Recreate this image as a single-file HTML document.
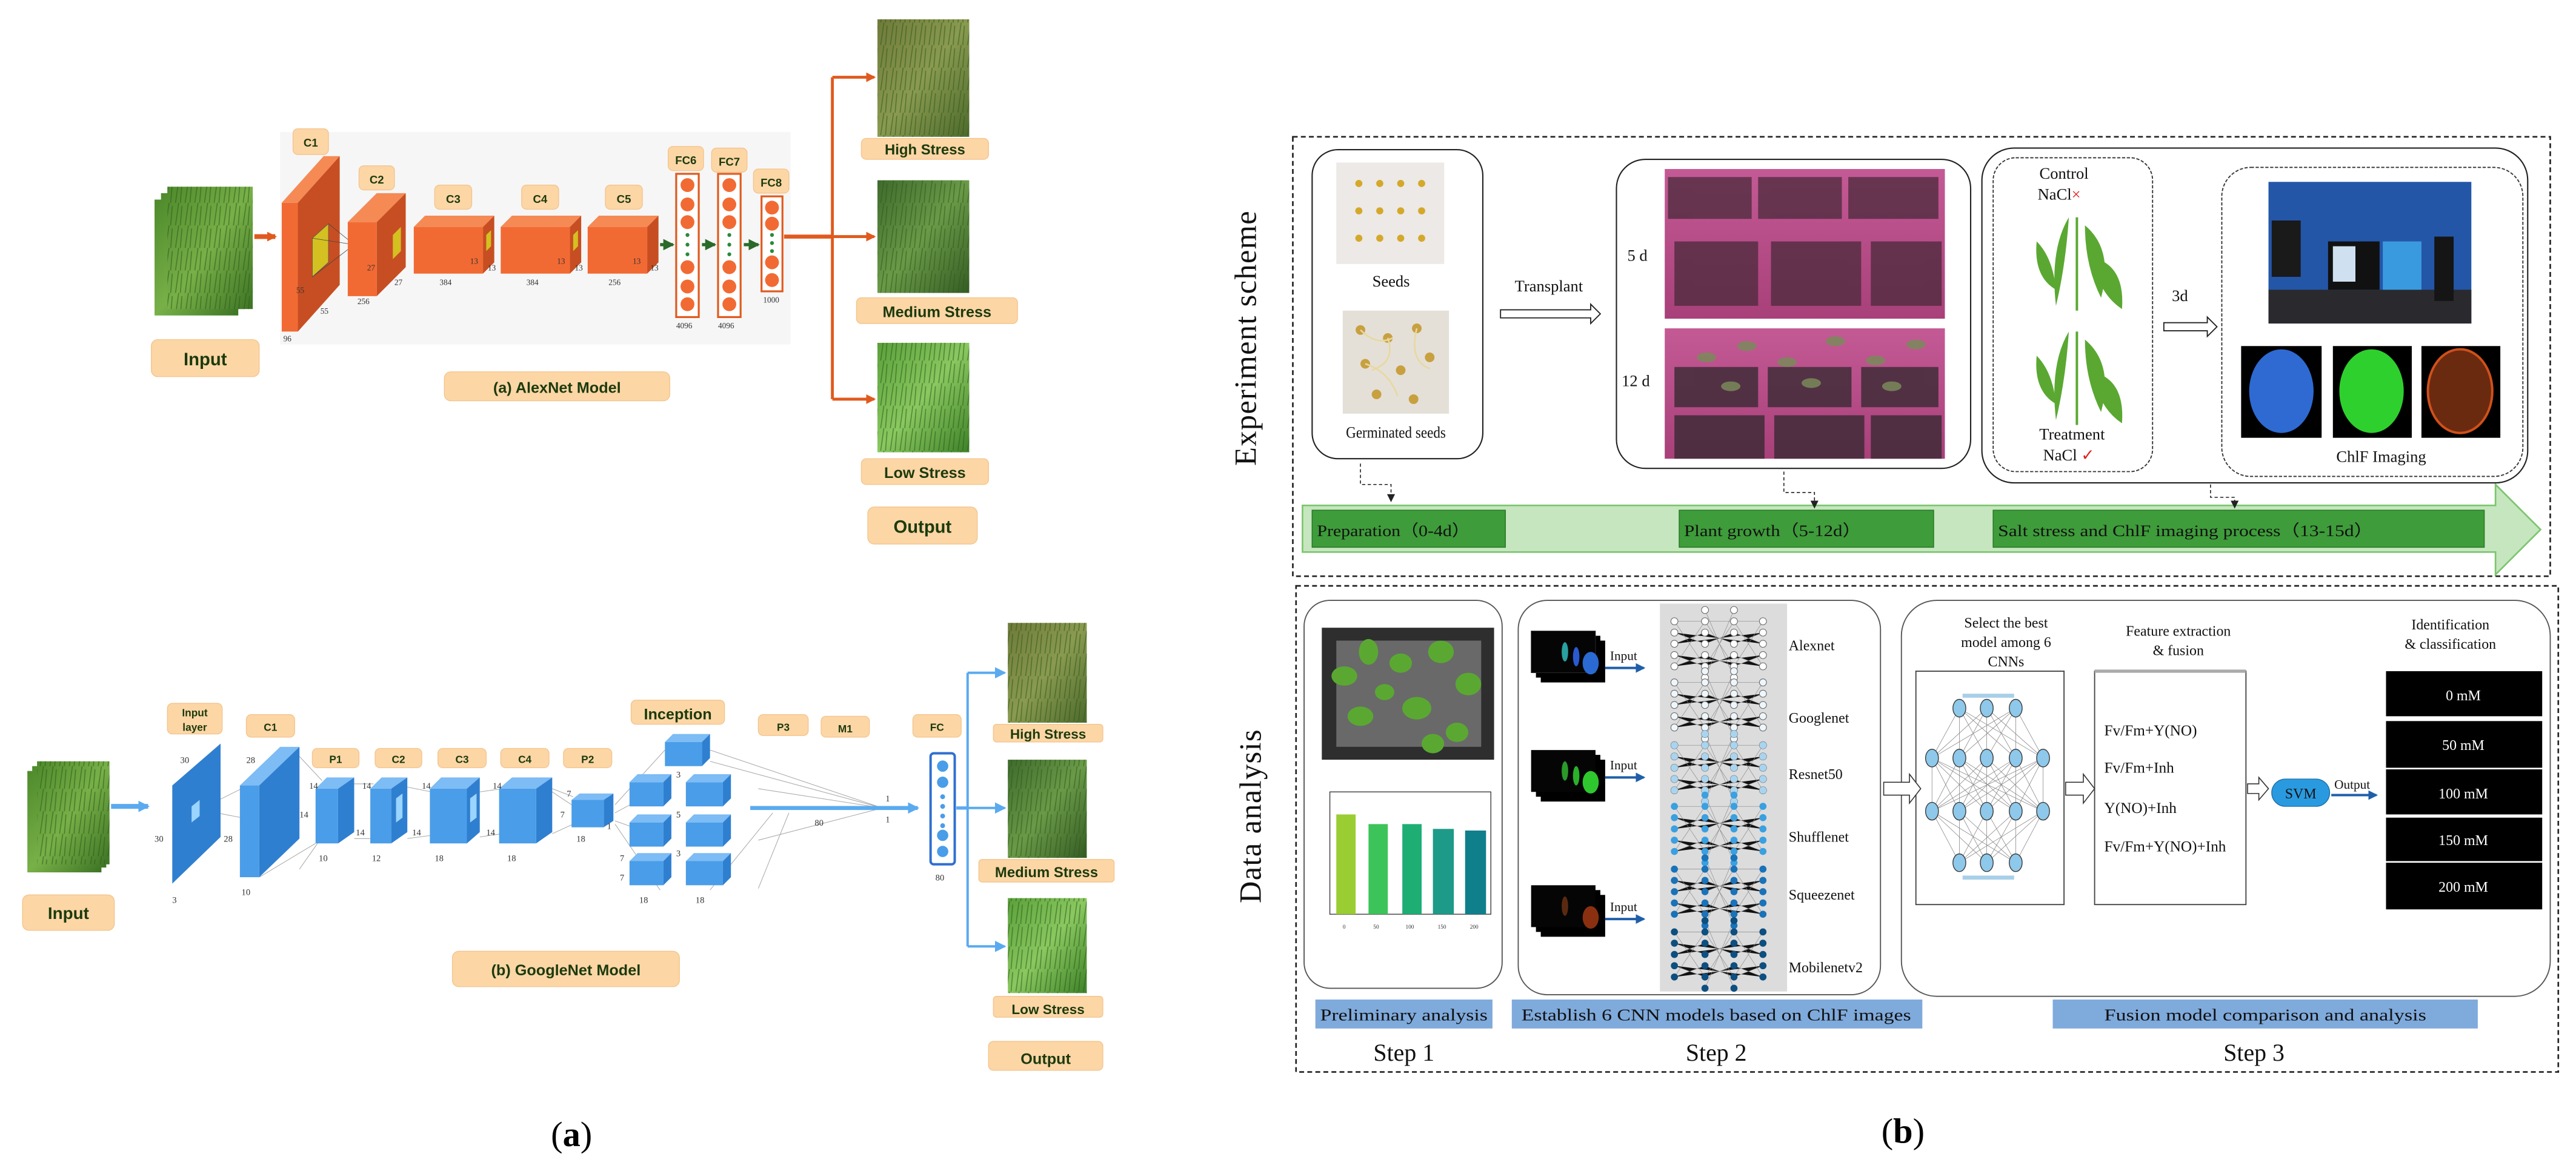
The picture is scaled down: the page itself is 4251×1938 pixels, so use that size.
<!DOCTYPE html>
<html><head><meta charset="utf-8"><style>html,body{margin:0;padding:0;background:#fff}svg{display:block}</style></head>
<body>
<svg xmlns="http://www.w3.org/2000/svg" width="4251" height="1938" viewBox="0 0 1600 729.4" preserveAspectRatio="none">
<defs>
<linearGradient id="grass" x1="0" y1="0" x2="1" y2="1"><stop offset="0" stop-color="#4e8a2c"/><stop offset="0.5" stop-color="#78b048"/><stop offset="1" stop-color="#3d7424"/></linearGradient>
<linearGradient id="grassH" x1="0" y1="0" x2="1" y2="1"><stop offset="0" stop-color="#6f7a3a"/><stop offset="0.5" stop-color="#8a9a50"/><stop offset="1" stop-color="#4e6a2c"/></linearGradient>
<linearGradient id="grassM" x1="0" y1="0" x2="1" y2="1"><stop offset="0" stop-color="#3f6a2c"/><stop offset="0.5" stop-color="#6a9a48"/><stop offset="1" stop-color="#355c24"/></linearGradient>
<linearGradient id="grassL" x1="0" y1="0" x2="1" y2="1"><stop offset="0" stop-color="#5aa03a"/><stop offset="0.5" stop-color="#8ac860"/><stop offset="1" stop-color="#3e8228"/></linearGradient>
<pattern id="blades" width="6" height="14" patternUnits="userSpaceOnUse"><path d="M1 14 L3 0 M4 14 L5 2" stroke="#2e5a1a" stroke-width="0.6" opacity="0.6"/></pattern>
<linearGradient id="pink" x1="0" y1="0" x2="0" y2="1"><stop offset="0" stop-color="#c45a95"/><stop offset="1" stop-color="#a8407a"/></linearGradient>
<marker id="ao" markerWidth="6" markerHeight="6" refX="5" refY="3" orient="auto" markerUnits="userSpaceOnUse"><path d="M0 0 L6 3 L0 6 z" fill="#e05a1e"/></marker>
<marker id="ab" markerWidth="7" markerHeight="7" refX="6" refY="3.5" orient="auto" markerUnits="userSpaceOnUse"><path d="M0 0 L7 3.5 L0 7 z" fill="#5aaaf0"/></marker>
<marker id="ag" markerWidth="7" markerHeight="7" refX="6" refY="3.5" orient="auto" markerUnits="userSpaceOnUse"><path d="M0 0 L7 3.5 L0 7 z" fill="#2a6a2a"/></marker>
<marker id="ak" markerWidth="5" markerHeight="5" refX="4" refY="2.5" orient="auto" markerUnits="userSpaceOnUse"><path d="M0 0 L5 2.5 L0 5 z" fill="#222"/></marker>
<marker id="adb" markerWidth="6" markerHeight="6" refX="5" refY="3" orient="auto" markerUnits="userSpaceOnUse"><path d="M0 0 L6 3 L0 6 z" fill="#1f5fa8"/></marker>
</defs>

<!-- ================= (a) AlexNet ================= -->
<g font-family="Liberation Sans, sans-serif" font-weight="bold" fill="#1c3a0c">
<rect x="174" y="82" width="317" height="132" fill="#f6f6f6"/>
<!-- input stack -->
<rect x="96" y="124" width="52" height="72" fill="url(#grass)"/>
<rect x="100" y="120" width="52" height="72" fill="url(#grass)"/>
<rect x="104" y="116" width="53" height="76" fill="url(#grass)"/>
<rect x="104" y="116" width="53" height="76" fill="url(#blades)"/>
<line x1="158" y1="147" x2="171" y2="147" stroke="#e05a1e" stroke-width="3" marker-end="url(#ao)"/>
<!-- C1 -->
<polygon points="175,126 201,97 211,97 185,126" fill="#f58a55"/>
<polygon points="185,126 211,97 211,177 185,206" fill="#c74e22"/>
<rect x="175" y="126" width="10" height="80" fill="#f26a33"/>
<polygon points="194,148 204,139 204,163 194,172" fill="#d4c020" stroke="#555" stroke-width="0.3"/>
<path d="M194,148 L220,152 M204,139 L220,152 M194,172 L220,152" stroke="#444" stroke-width="0.3"/>
<!-- C2 -->
<polygon points="216,138 234,120 252,120 234,138" fill="#f58a55"/>
<polygon points="234,138 252,120 252,166 234,184" fill="#c74e22"/>
<rect x="216" y="138" width="18" height="46" fill="#f26a33"/>
<polygon points="244,146 249,141 249,156 244,161" fill="#d4c020"/>
<!-- C3..C5 -->
<g>
<polygon points="257,141 264,134 307,134 300,141" fill="#f58a55"/><polygon points="300,141 307,134 307,163 300,170" fill="#c74e22"/><rect x="257" y="141" width="43" height="29" fill="#f26a33"/>
<polygon points="311,141 318,134 361,134 354,141" fill="#f58a55"/><polygon points="354,141 361,134 361,163 354,170" fill="#c74e22"/><rect x="311" y="141" width="43" height="29" fill="#f26a33"/>
<polygon points="365,141 372,134 409,134 402,141" fill="#f58a55"/><polygon points="402,141 409,134 409,163 402,170" fill="#c74e22"/><rect x="365" y="141" width="37" height="29" fill="#f26a33"/>
<polygon points="302,146 305,143 305,153 302,156" fill="#d4c020"/><polygon points="356,146 359,143 359,153 356,156" fill="#d4c020"/>
</g>
<g font-family="Liberation Serif, serif" font-weight="normal" font-size="5" fill="#333">
<text x="176" y="212">96</text><text x="184" y="182">55</text><text x="199" y="195">55</text><text x="222" y="189">256</text><text x="228" y="168">27</text><text x="245" y="177">27</text>
<text x="273" y="177">384</text><text x="327" y="177">384</text><text x="378" y="177">256</text>
<text x="292" y="164">13</text><text x="303" y="168">13</text><text x="346" y="164">13</text><text x="357" y="168">13</text><text x="393" y="164">13</text><text x="404" y="168">13</text>
<text x="420" y="204">4096</text><text x="446" y="204">4096</text><text x="474" y="188">1000</text>
</g>
<!-- FC columns -->
<rect x="420" y="108" width="14" height="89" fill="#fff" stroke="#e05a1e" stroke-width="1.2"/>
<rect x="446" y="108" width="14" height="89" fill="#fff" stroke="#e05a1e" stroke-width="1.2"/>
<rect x="473" y="122" width="13" height="59" fill="#fff" stroke="#e05a1e" stroke-width="1.2"/>
<g fill="#f26a33">
<circle cx="427" cy="115" r="4.3"/><circle cx="427" cy="127" r="4.3"/><circle cx="427" cy="138" r="4.3"/><circle cx="427" cy="166" r="4.3"/><circle cx="427" cy="178" r="4.3"/><circle cx="427" cy="189" r="4.3"/>
<circle cx="453" cy="115" r="4.3"/><circle cx="453" cy="127" r="4.3"/><circle cx="453" cy="138" r="4.3"/><circle cx="453" cy="166" r="4.3"/><circle cx="453" cy="178" r="4.3"/><circle cx="453" cy="189" r="4.3"/>
<circle cx="479.5" cy="129" r="4.3"/><circle cx="479.5" cy="139" r="4.3"/><circle cx="479.5" cy="163" r="4.3"/><circle cx="479.5" cy="174" r="4.3"/>
</g>
<g fill="#2a8a3a"><circle cx="427" cy="146" r="1.2"/><circle cx="427" cy="152" r="1.2"/><circle cx="427" cy="158" r="1.2"/><circle cx="453" cy="146" r="1.2"/><circle cx="453" cy="152" r="1.2"/><circle cx="453" cy="158" r="1.2"/><circle cx="479.5" cy="146" r="1.2"/><circle cx="479.5" cy="151" r="1.2"/><circle cx="479.5" cy="156" r="1.2"/></g>
<line x1="410" y1="152" x2="418" y2="152" stroke="#2a6a2a" stroke-width="2" marker-end="url(#ag)"/>
<line x1="436" y1="152" x2="444" y2="152" stroke="#2a6a2a" stroke-width="2" marker-end="url(#ag)"/>
<line x1="462" y1="152" x2="471" y2="152" stroke="#2a6a2a" stroke-width="2" marker-end="url(#ag)"/>
<!-- labels -->
<g fill="#fdd6a6" stroke="#f3c48c" stroke-width="0.5">
<rect x="182" y="80" width="22" height="16" rx="3"/><rect x="223" y="103" width="22" height="15" rx="3"/><rect x="270" y="115" width="23" height="15" rx="3"/><rect x="324" y="115" width="23" height="15" rx="3"/><rect x="376" y="115" width="23" height="15" rx="3"/>
<rect x="415" y="91" width="22" height="15" rx="3"/><rect x="442" y="92" width="22" height="15" rx="3"/><rect x="468" y="105" width="22" height="15" rx="3"/>
<rect x="94" y="211" width="67" height="23" rx="4"/><rect x="276" y="231" width="140" height="18" rx="4"/>
<rect x="535" y="86" width="79" height="13" rx="3"/><rect x="532" y="185" width="100" height="16" rx="3"/><rect x="535" y="285" width="79" height="16" rx="3"/><rect x="539" y="315" width="68" height="23" rx="4"/>
</g>
<g font-size="7" text-anchor="middle"><text x="193" y="91">C1</text><text x="234" y="114">C2</text><text x="281.5" y="126">C3</text><text x="335.5" y="126">C4</text><text x="387.5" y="126">C5</text><text x="426" y="102">FC6</text><text x="453" y="103">FC7</text><text x="479" y="116">FC8</text></g>
<text x="127.5" y="227" font-size="11" text-anchor="middle">Input</text>
<text x="346" y="244" font-size="9.5" text-anchor="middle">(a) AlexNet Model</text>
<text x="574.5" y="96" font-size="9" text-anchor="middle">High Stress</text>
<text x="582" y="197" font-size="9.5" text-anchor="middle">Medium Stress</text>
<text x="574.5" y="297" font-size="9.5" text-anchor="middle">Low Stress</text>
<text x="573" y="331" font-size="11" text-anchor="middle">Output</text>
<!-- outputs -->
<line x1="487" y1="147" x2="517" y2="147" stroke="#e05a1e" stroke-width="2.5"/>
<line x1="517" y1="48" x2="517" y2="248" stroke="#e05a1e" stroke-width="1.8"/>
<line x1="517" y1="48" x2="543" y2="48" stroke="#e05a1e" stroke-width="1.8" marker-end="url(#ao)"/>
<line x1="517" y1="147" x2="543" y2="147" stroke="#e05a1e" stroke-width="1.8" marker-end="url(#ao)"/>
<line x1="517" y1="248" x2="543" y2="248" stroke="#e05a1e" stroke-width="1.8" marker-end="url(#ao)"/>
<rect x="545" y="12" width="57" height="73" fill="url(#grassH)"/><rect x="545" y="12" width="57" height="73" fill="url(#blades)"/>
<rect x="545" y="112" width="57" height="70" fill="url(#grassM)"/><rect x="545" y="112" width="57" height="70" fill="url(#blades)"/>
<rect x="545" y="213" width="57" height="68" fill="url(#grassL)"/><rect x="545" y="213" width="57" height="68" fill="url(#blades)"/>
</g>

<!-- ================= (b) GoogleNet ================= -->
<g font-family="Liberation Sans, sans-serif" font-weight="bold" fill="#1c3a0c">
<rect x="17" y="479" width="46" height="63" fill="url(#grass)"/>
<rect x="20" y="476" width="46" height="63" fill="url(#grass)"/>
<rect x="23" y="473" width="45" height="64" fill="url(#grass)"/><rect x="23" y="473" width="45" height="64" fill="url(#blades)"/>
<line x1="69" y1="501" x2="92" y2="501" stroke="#5aaaf0" stroke-width="3" marker-end="url(#ab)"/>
<g stroke="#aaa" stroke-width="0.4" fill="none">
<path d="M124,503 L150,508 M124,503 L150,490 M186,470 L200,485 M186,540 L200,520 M161,545 L196,524 M220,487 L232,487 M220,521 L232,521 M253,489 L268,492 M253,521 L268,519 M298,492 L312,490 M298,520 L312,518 M343,490 L356,495 M343,518 L356,512 M382,500 L413,466 M382,505 L410,490 M382,510 L410,520 M382,512 L410,553 M441,466 L548,502 M441,473 L548,502 M471,490 L548,502 M471,522 L548,502 M471,552 L490,505 M441,553 L480,505 M355,500 L340,490"/>
</g>
<polygon points="107,488 137,462 137,520 107,549" fill="#2f7fd0"/>
<polygon points="119,501 124,497 124,507 119,511" fill="#9ad4ff"/>
<polygon points="149,488 161,488 186,464 174,464" fill="#7dbcf5"/>
<polygon points="161,488 186,464 186,521 161,545" fill="#2f7fd0"/>
<rect x="149" y="488" width="12" height="57" fill="#4a9de8"/>
<!-- P1 C2 C3 C4 P2 -->
<polygon points="196,490 203,483 220,483 210,490" fill="#7dbcf5"/><polygon points="210,490 220,483 220,517 210,524" fill="#2f7fd0"/><rect x="196" y="490" width="14" height="34" fill="#4a9de8"/>
<polygon points="230,490 237,483 253,483 243,490" fill="#7dbcf5"/><polygon points="243,490 253,483 253,517 243,524" fill="#2f7fd0"/><rect x="230" y="490" width="13" height="34" fill="#4a9de8"/>
<polygon points="246,496 250,493 250,508 246,511" fill="#9ad4ff"/>
<polygon points="267,490 274,483 298,483 290,490" fill="#7dbcf5"/><polygon points="290,490 298,483 298,517 290,524" fill="#2f7fd0"/><rect x="267" y="490" width="23" height="34" fill="#4a9de8"/>
<polygon points="292,496 296,493 296,508 292,511" fill="#9ad4ff"/>
<polygon points="310,490 318,483 343,483 333,490" fill="#7dbcf5"/><polygon points="333,490 343,483 343,517 333,524" fill="#2f7fd0"/><rect x="310" y="490" width="23" height="34" fill="#4a9de8"/>
<polygon points="355,497 360,493 381,493 375,497" fill="#7dbcf5"/><polygon points="375,497 381,493 381,510 375,514" fill="#2f7fd0"/><rect x="355" y="497" width="20" height="17" fill="#4a9de8"/>
<!-- inception -->
<g>
<polygon points="413,461 418,456 441,456 436,461" fill="#7dbcf5"/><polygon points="436,461 441,456 441,471 436,476" fill="#2f7fd0"/><rect x="413" y="461" width="23" height="15" fill="#4a9de8"/>
<polygon points="391,486 396,481 417,481 412,486" fill="#7dbcf5"/><polygon points="412,486 417,481 417,496 412,501" fill="#2f7fd0"/><rect x="391" y="486" width="21" height="15" fill="#4a9de8"/>
<polygon points="391,511 396,506 417,506 412,511" fill="#7dbcf5"/><polygon points="412,511 417,506 417,521 412,526" fill="#2f7fd0"/><rect x="391" y="511" width="21" height="15" fill="#4a9de8"/>
<polygon points="391,535 396,530 417,530 412,535" fill="#7dbcf5"/><polygon points="412,535 417,530 417,545 412,550" fill="#2f7fd0"/><rect x="391" y="535" width="21" height="15" fill="#4a9de8"/>
<polygon points="426,486 431,481 454,481 449,486" fill="#7dbcf5"/><polygon points="449,486 454,481 454,496 449,501" fill="#2f7fd0"/><rect x="426" y="486" width="23" height="15" fill="#4a9de8"/>
<polygon points="426,511 431,506 454,506 449,511" fill="#7dbcf5"/><polygon points="449,511 454,506 454,521 449,526" fill="#2f7fd0"/><rect x="426" y="511" width="23" height="15" fill="#4a9de8"/>
<polygon points="426,535 431,530 454,530 449,535" fill="#7dbcf5"/><polygon points="449,535 454,530 454,545 449,550" fill="#2f7fd0"/><rect x="426" y="535" width="23" height="15" fill="#4a9de8"/>
</g>
<line x1="466" y1="502" x2="570" y2="502" stroke="#5aaaf0" stroke-width="2.5" marker-end="url(#ab)"/>
<rect x="578" y="468" width="15" height="69" rx="2" fill="#fff" stroke="#2f6fd0" stroke-width="1.5"/>
<g fill="#4a9de8"><circle cx="585.5" cy="476" r="3.5"/><circle cx="585.5" cy="486" r="3.5"/><circle cx="585.5" cy="519" r="3.5"/><circle cx="585.5" cy="529" r="3.5"/><circle cx="585.5" cy="495" r="1.5"/><circle cx="585.5" cy="501" r="1.5"/><circle cx="585.5" cy="507" r="1.5"/><circle cx="585.5" cy="513" r="1.5"/></g>
<g font-family="Liberation Serif, serif" font-weight="normal" font-size="5.5" fill="#333">
<text x="112" y="474">30</text><text x="96" y="523">30</text><text x="107" y="561">3</text><text x="139" y="523">28</text><text x="153" y="474">28</text><text x="150" y="556">10</text>
<text x="192" y="490">14</text><text x="186" y="508">14</text><text x="198" y="535">10</text><text x="225" y="490">14</text><text x="221" y="519">14</text><text x="231" y="535">12</text>
<text x="262" y="490">14</text><text x="256" y="519">14</text><text x="270" y="535">18</text><text x="306" y="490">14</text><text x="302" y="519">14</text><text x="315" y="535">18</text>
<text x="352" y="495">7</text><text x="348" y="508">7</text><text x="358" y="523">18</text><text x="377" y="515">1</text>
<text x="420" y="483">3</text><text x="420" y="508">5</text><text x="420" y="532">3</text><text x="385" y="535">7</text><text x="385" y="547">7</text><text x="397" y="561">18</text><text x="432" y="561">18</text>
<text x="506" y="513">80</text><text x="550" y="498">1</text><text x="550" y="511">1</text><text x="581" y="547">80</text>
</g>
<g fill="#fdd6a6" stroke="#f3c48c" stroke-width="0.5">
<rect x="104" y="437" width="34" height="19" rx="3"/><rect x="153" y="444" width="30" height="14" rx="3"/><rect x="194" y="465" width="29" height="12" rx="3"/><rect x="233" y="465" width="29" height="12" rx="3"/><rect x="272" y="465" width="30" height="12" rx="3"/><rect x="311" y="465" width="30" height="12" rx="3"/><rect x="350" y="465" width="30" height="12" rx="3"/>
<rect x="392" y="435" width="58" height="15" rx="3"/><rect x="471" y="444" width="31" height="13" rx="3"/><rect x="510" y="445" width="30" height="13" rx="3"/><rect x="567" y="444" width="30" height="14" rx="3"/>
<rect x="14" y="556" width="57" height="22" rx="4"/><rect x="281" y="591" width="141" height="22" rx="4"/>
<rect x="617" y="450" width="68" height="11" rx="2"/><rect x="608" y="534" width="84" height="14" rx="2"/><rect x="617" y="619" width="68" height="13" rx="2"/><rect x="614" y="647" width="71" height="18" rx="3"/>
</g>
<g font-size="6.5" text-anchor="middle"><text x="121" y="445">Input</text><text x="121" y="454">layer</text><text x="168" y="454">C1</text><text x="208.5" y="474">P1</text><text x="247.5" y="474">C2</text><text x="287" y="474">C3</text><text x="326" y="474">C4</text><text x="365" y="474">P2</text><text x="486.5" y="454">P3</text><text x="525" y="455">M1</text><text x="582" y="454">FC</text></g>
<text x="421" y="447" font-size="9.5" text-anchor="middle">Inception</text>
<text x="42.5" y="571" font-size="10.5" text-anchor="middle">Input</text>
<text x="351.5" y="606" font-size="9.5" text-anchor="middle">(b) GoogleNet Model</text>
<text x="651" y="459" font-size="8.5" text-anchor="middle">High Stress</text>
<text x="650" y="545" font-size="9" text-anchor="middle">Medium Stress</text>
<text x="651" y="630" font-size="8.5" text-anchor="middle">Low Stress</text>
<text x="649.5" y="661" font-size="9.5" text-anchor="middle">Output</text>
<line x1="594" y1="502" x2="601" y2="502" stroke="#5aaaf0" stroke-width="2"/>
<line x1="601" y1="418" x2="601" y2="588" stroke="#5aaaf0" stroke-width="1.5"/>
<line x1="601" y1="418" x2="624" y2="418" stroke="#5aaaf0" stroke-width="1.5" marker-end="url(#ab)"/>
<line x1="601" y1="502" x2="624" y2="502" stroke="#5aaaf0" stroke-width="1.5" marker-end="url(#ab)"/>
<line x1="601" y1="588" x2="624" y2="588" stroke="#5aaaf0" stroke-width="1.5" marker-end="url(#ab)"/>
<rect x="626" y="387" width="49" height="62" fill="url(#grassH)"/><rect x="626" y="387" width="49" height="62" fill="url(#blades)"/>
<rect x="626" y="472" width="49" height="61" fill="url(#grassM)"/><rect x="626" y="472" width="49" height="61" fill="url(#blades)"/>
<rect x="626" y="558" width="49" height="59" fill="url(#grassL)"/><rect x="626" y="558" width="49" height="59" fill="url(#blades)"/>
</g>
<text x="355" y="712" font-family="Liberation Serif, serif" font-size="22" text-anchor="middle" fill="#000">(<tspan font-weight="bold">a</tspan>)</text>

<!-- ================= (b) right panel ================= -->
<g font-family="Liberation Serif, serif" fill="#111">
<rect x="803" y="85" width="781" height="273" fill="none" stroke="#222" stroke-width="1" stroke-dasharray="3,2"/>
<rect x="805" y="364" width="784" height="302" fill="none" stroke="#222" stroke-width="1" stroke-dasharray="3,2"/>
<text transform="translate(780,210) rotate(-90)" font-size="19" text-anchor="middle" letter-spacing="0.5">Experiment scheme</text>
<text transform="translate(783,507) rotate(-90)" font-size="19" text-anchor="middle" letter-spacing="0.5">Data analysis</text>

<!-- green arrow band -->
<polygon points="809,314 1550,314 1550,301 1578,329 1550,357 1550,343 809,343" fill="#c5e6bf" stroke="#7cc56e" stroke-width="1"/>
<rect x="815" y="317" width="120" height="23" fill="#3e9c3a" stroke="#2a7a28" stroke-width="0.6"/>
<rect x="1043" y="317" width="158" height="23" fill="#3e9c3a" stroke="#2a7a28" stroke-width="0.6"/>
<rect x="1238" y="317" width="305" height="23" fill="#3e9c3a" stroke="#2a7a28" stroke-width="0.6"/>
<g font-size="10"><text x="818" y="333" textLength="95" lengthAdjust="spacingAndGlyphs">Preparation（0-4d）</text>
<text x="1046" y="333" textLength="110" lengthAdjust="spacingAndGlyphs">Plant growth（5-12d）</text>
<text x="1241" y="333" textLength="233" lengthAdjust="spacingAndGlyphs">Salt stress and ChlF imaging process（13-15d）</text></g>
<g stroke="#222" stroke-width="0.6" stroke-dasharray="2,1.5" fill="none">
<path d="M845,288 L845,301 L864,301 L864,311" marker-end="url(#ak)"/>
<path d="M1108,293 L1108,306 L1127,306 L1127,315" marker-end="url(#ak)"/>
<path d="M1373,301 L1373,309 L1388,309 L1388,315" marker-end="url(#ak)"/>
</g>

<!-- seeds box -->
<rect x="815" y="93" width="106" height="192" rx="16" fill="#fff" stroke="#222" stroke-width="0.8"/>
<rect x="830" y="101" width="67" height="63" fill="#ece9e6"/>
<g fill="#d4a82a"><circle cx="844" cy="114" r="2.2"/><circle cx="857" cy="114" r="2.2"/><circle cx="870" cy="114" r="2.2"/><circle cx="883" cy="114" r="2.2"/><circle cx="844" cy="131" r="2.2"/><circle cx="857" cy="131" r="2.2"/><circle cx="870" cy="131" r="2.2"/><circle cx="883" cy="131" r="2.2"/><circle cx="844" cy="148" r="2.2"/><circle cx="857" cy="148" r="2.2"/><circle cx="870" cy="148" r="2.2"/><circle cx="883" cy="148" r="2.2"/></g>
<text x="864" y="178" font-size="10" text-anchor="middle">Seeds</text>
<rect x="834" y="193" width="66" height="64" fill="#e4e0d8"/>
<g fill="#c8a040"><circle cx="845" cy="205" r="3"/><circle cx="862" cy="210" r="3"/><circle cx="880" cy="204" r="3"/><circle cx="848" cy="226" r="3"/><circle cx="870" cy="230" r="3"/><circle cx="888" cy="222" r="3"/><circle cx="855" cy="245" r="3"/><circle cx="878" cy="248" r="3"/></g>
<path d="M845,205 q10,10 20,5 M862,210 q5,15 -10,20 M880,204 q-5,20 8,25 M848,226 q15,5 20,20" stroke="#e8d8a0" stroke-width="1" fill="none"/>
<text x="867" y="272" font-size="10" text-anchor="middle" textLength="62" lengthAdjust="spacingAndGlyphs">Germinated seeds</text>
<text x="962" y="181" font-size="10" text-anchor="middle">Transplant</text>
<path d="M932,192.5 L988,192.5 L988,189 L994,195 L988,201 L988,197.5 L932,197.5 Z" fill="#fff" stroke="#222" stroke-width="0.7"/>

<!-- photo box -->
<rect x="1004" y="99" width="220" height="192" rx="18" fill="#fff" stroke="#222" stroke-width="0.8"/>
<rect x="1034" y="105" width="174" height="93" fill="url(#pink)"/>
<g fill="#4a2a3a" opacity="0.75"><rect x="1036" y="110" width="52" height="26"/><rect x="1092" y="110" width="52" height="26"/><rect x="1148" y="110" width="56" height="26"/><rect x="1040" y="150" width="52" height="40"/><rect x="1100" y="150" width="56" height="40"/><rect x="1162" y="150" width="44" height="40"/></g>
<rect x="1034" y="204" width="174" height="81" fill="url(#pink)"/>
<g fill="#3a2a34" opacity="0.8"><rect x="1040" y="228" width="52" height="25"/><rect x="1098" y="228" width="52" height="25"/><rect x="1156" y="228" width="48" height="25"/><rect x="1040" y="258" width="56" height="27"/><rect x="1102" y="258" width="56" height="27"/><rect x="1162" y="258" width="44" height="27"/></g>
<g fill="#7a8a5a" opacity="0.85"><ellipse cx="1060" cy="222" rx="6" ry="3"/><ellipse cx="1085" cy="215" rx="6" ry="3"/><ellipse cx="1110" cy="225" rx="6" ry="3"/><ellipse cx="1140" cy="212" rx="6" ry="3"/><ellipse cx="1165" cy="224" rx="6" ry="3"/><ellipse cx="1190" cy="214" rx="6" ry="3"/><ellipse cx="1075" cy="240" rx="6" ry="3"/><ellipse cx="1125" cy="238" rx="6" ry="3"/><ellipse cx="1175" cy="240" rx="6" ry="3"/></g>
<text x="1017" y="162" font-size="10" text-anchor="middle">5 d</text>
<text x="1016" y="240" font-size="10" text-anchor="middle">12 d</text>

<!-- salt/ChlF box -->
<rect x="1231" y="92" width="339" height="208" rx="20" fill="#fff" stroke="#222" stroke-width="0.8"/>
<rect x="1238" y="98" width="99" height="195" rx="14" fill="none" stroke="#333" stroke-width="0.7" stroke-dasharray="2,1"/>
<text x="1282" y="111" font-size="10" text-anchor="middle">Control</text>
<text x="1279" y="124" font-size="10" text-anchor="middle">NaCl<tspan fill="#e02020">×</tspan></text>
<g fill="#5aa832"><path d="M1285,135 q-12,20 -8,55 q6,-25 8,-55z"/><path d="M1295,140 q18,15 10,45 q-10,-20 -10,-45z"/><path d="M1300,160 q20,5 18,32 q-15,-10 -18,-32z"/><path d="M1265,150 q10,10 12,30 q-14,-8 -12,-30z"/>
<path d="M1285,206 q-12,20 -8,55 q6,-25 8,-55z"/><path d="M1295,211 q18,15 10,45 q-10,-20 -10,-45z"/><path d="M1300,231 q20,5 18,32 q-15,-10 -18,-32z"/><path d="M1265,221 q10,10 12,30 q-14,-8 -12,-30z"/></g>
<path d="M1290,135 L1290,193 M1290,206 L1290,264" stroke="#5aa832" stroke-width="1.5"/>
<text x="1287" y="273" font-size="10" text-anchor="middle">Treatment</text>
<text x="1285" y="286" font-size="10" text-anchor="middle">NaCl <tspan fill="#e02020">✓</tspan></text>
<text x="1354" y="187" font-size="10" text-anchor="middle">3d</text>
<path d="M1344,200.5 L1371,200.5 L1371,197 L1377,203 L1371,209 L1371,205.5 L1344,205.5 Z" fill="#fff" stroke="#222" stroke-width="0.7"/>
<rect x="1380" y="104" width="187" height="192" rx="18" fill="none" stroke="#333" stroke-width="0.7" stroke-dasharray="2,1"/>
<rect x="1409" y="113" width="126" height="88" fill="#2456a8"/>
<rect x="1409" y="180" width="126" height="21" fill="#2a2a2e"/>
<rect x="1411" y="137" width="18" height="35" fill="#1a1a1a"/><rect x="1446" y="150" width="32" height="30" fill="#111"/><rect x="1449" y="153" width="14" height="22" fill="#cfe0f0"/><rect x="1480" y="150" width="24" height="30" fill="#3a9ae0"/><rect x="1512" y="147" width="12" height="40" fill="#151515"/>
<rect x="1392" y="215" width="50" height="57" fill="#000"/><ellipse cx="1417" cy="243" rx="20" ry="26" fill="#2e6ad2"/>
<rect x="1449" y="215" width="49" height="57" fill="#000"/><ellipse cx="1473" cy="243" rx="20" ry="26" fill="#2ed02e"/>
<rect x="1504" y="215" width="49" height="57" fill="#000"/><ellipse cx="1528" cy="243" rx="20" ry="26" fill="#6a2a10" stroke="#d0501a" stroke-width="1.5"/>
<text x="1479" y="287" font-size="10" text-anchor="middle">ChlF Imaging</text>

<!-- Step 1 -->
<rect x="810" y="373" width="123" height="241" rx="16" fill="#fff" stroke="#555" stroke-width="0.7"/>
<rect x="821" y="390" width="107" height="82" fill="#2e2e2e"/>
<rect x="830" y="398" width="90" height="66" fill="#d8d8d8" opacity="0.35"/>
<g fill="#5aa832"><ellipse cx="835" cy="420" rx="8" ry="6"/><ellipse cx="850" cy="405" rx="6" ry="8"/><ellipse cx="870" cy="412" rx="7" ry="6"/><ellipse cx="895" cy="405" rx="8" ry="7"/><ellipse cx="912" cy="425" rx="8" ry="7"/><ellipse cx="845" cy="445" rx="8" ry="6"/><ellipse cx="880" cy="440" rx="9" ry="7"/><ellipse cx="905" cy="455" rx="7" ry="6"/><ellipse cx="860" cy="430" rx="6" ry="5"/><ellipse cx="890" cy="462" rx="7" ry="6"/></g>
<rect x="826" y="492" width="100" height="76" fill="#fff" stroke="#333" stroke-width="0.5"/>
<rect x="830" y="506" width="12" height="62" fill="#9acd32"/><rect x="850" y="512" width="12" height="56" fill="#3cc45a"/><rect x="871" y="512" width="12" height="56" fill="#1eae74"/><rect x="890" y="515" width="13" height="53" fill="#1e9a88"/><rect x="910" y="516" width="13" height="52" fill="#107f8c"/>
<g font-size="3.5" fill="#333"><text x="834" y="577">0</text><text x="853" y="577">50</text><text x="873" y="577">100</text><text x="893" y="577">150</text><text x="913" y="577">200</text></g>
<rect x="817" y="621" width="110" height="18" fill="#7faadc"/>
<text x="872" y="634" font-size="10.5" text-anchor="middle" textLength="104" lengthAdjust="spacingAndGlyphs">Preliminary analysis</text>

<!-- Step 2 -->
<rect x="943" y="373" width="225" height="245" rx="18" fill="#fff" stroke="#555" stroke-width="0.7"/>
<rect x="1031" y="375" width="79" height="241" fill="#dcdcdc"/>
<g id="stk">
<rect x="957" y="398" width="40" height="26" fill="#000"/><rect x="954" y="395" width="40" height="26" fill="#000"/><rect x="951" y="392" width="40" height="26" fill="#050505" stroke="#333" stroke-width="0.3"/>
</g>
<ellipse cx="988" cy="412" rx="5" ry="7" fill="#2a6ad2"/><ellipse cx="972" cy="405" rx="2" ry="6" fill="#2aa0a0"/><ellipse cx="979" cy="408" rx="2" ry="6" fill="#2a5ad2"/>
<rect x="957" y="472" width="40" height="26" fill="#000"/><rect x="954" y="469" width="40" height="26" fill="#000"/><rect x="951" y="466" width="40" height="26" fill="#050505"/>
<ellipse cx="988" cy="486" rx="5" ry="7" fill="#2ec82e"/><ellipse cx="972" cy="479" rx="2" ry="6" fill="#2a9a2a"/><ellipse cx="979" cy="482" rx="2" ry="6" fill="#2ab02a"/>
<rect x="957" y="556" width="40" height="26" fill="#000"/><rect x="954" y="553" width="40" height="26" fill="#000"/><rect x="951" y="550" width="40" height="26" fill="#050505"/>
<ellipse cx="988" cy="570" rx="5" ry="7" fill="#8a3010"/><ellipse cx="972" cy="563" rx="2" ry="6" fill="#5a2a10"/>
<g font-size="8"><text x="1000" y="410">Input</text><text x="1000" y="478">Input</text><text x="1000" y="566">Input</text></g>
<line x1="997" y1="415" x2="1021" y2="415" stroke="#1f5fa8" stroke-width="1.5" marker-end="url(#adb)"/>
<line x1="997" y1="483" x2="1021" y2="483" stroke="#1f5fa8" stroke-width="1.5" marker-end="url(#adb)"/>
<line x1="997" y1="571" x2="1021" y2="571" stroke="#1f5fa8" stroke-width="1.5" marker-end="url(#adb)"/>
<!-- mini nets -->
<g id="net1" stroke="#888" stroke-width="0.25">
<path d="M1040,386 L1059,386 L1077,386 L1095,386 M1040,393 L1059,400 L1077,393 L1095,400 M1040,400 L1059,393 L1077,400 L1095,393 M1040,407 L1059,414 L1077,407 L1095,414 M1040,414 L1059,407 L1077,414 L1095,407 M1040,386 L1059,414 M1040,414 L1059,386 M1059,386 L1077,414 M1059,414 L1077,386 M1077,386 L1095,414 M1077,414 L1095,386 M1059,379 L1077,421 M1059,421 L1077,379"/>
</g>
<use href="#net1" y="38"/><use href="#net1" y="77"/><use href="#net1" y="115"/><use href="#net1" y="154"/><use href="#net1" y="193"/>
<g stroke="#666" stroke-width="0.4">
<g fill="#fff"><circle cx="1040" cy="386" r="2.2"/><circle cx="1040" cy="393" r="2.2"/><circle cx="1040" cy="400" r="2.2"/><circle cx="1040" cy="407" r="2.2"/><circle cx="1040" cy="414" r="2.2"/><circle cx="1059" cy="379" r="2.2"/><circle cx="1059" cy="386" r="2.2"/><circle cx="1059" cy="393" r="2.2"/><circle cx="1059" cy="400" r="2.2"/><circle cx="1059" cy="407" r="2.2"/><circle cx="1059" cy="414" r="2.2"/><circle cx="1059" cy="421" r="2.2"/><circle cx="1077" cy="379" r="2.2"/><circle cx="1077" cy="386" r="2.2"/><circle cx="1077" cy="393" r="2.2"/><circle cx="1077" cy="400" r="2.2"/><circle cx="1077" cy="407" r="2.2"/><circle cx="1077" cy="414" r="2.2"/><circle cx="1077" cy="421" r="2.2"/><circle cx="1095" cy="386" r="2.2"/><circle cx="1095" cy="393" r="2.2"/><circle cx="1095" cy="400" r="2.2"/><circle cx="1095" cy="407" r="2.2"/><circle cx="1095" cy="414" r="2.2"/></g>
</g>
<g id="nodes2" stroke="#666" stroke-width="0.4" transform="translate(0,38)"><g fill="#eef6fb"><circle cx="1040" cy="386" r="2.2"/><circle cx="1040" cy="393" r="2.2"/><circle cx="1040" cy="400" r="2.2"/><circle cx="1040" cy="407" r="2.2"/><circle cx="1040" cy="414" r="2.2"/><circle cx="1059" cy="379" r="2.2"/><circle cx="1059" cy="386" r="2.2"/><circle cx="1059" cy="393" r="2.2"/><circle cx="1059" cy="400" r="2.2"/><circle cx="1059" cy="407" r="2.2"/><circle cx="1059" cy="414" r="2.2"/><circle cx="1059" cy="421" r="2.2"/><circle cx="1077" cy="379" r="2.2"/><circle cx="1077" cy="386" r="2.2"/><circle cx="1077" cy="393" r="2.2"/><circle cx="1077" cy="400" r="2.2"/><circle cx="1077" cy="407" r="2.2"/><circle cx="1077" cy="414" r="2.2"/><circle cx="1077" cy="421" r="2.2"/><circle cx="1095" cy="386" r="2.2"/><circle cx="1095" cy="393" r="2.2"/><circle cx="1095" cy="400" r="2.2"/><circle cx="1095" cy="407" r="2.2"/><circle cx="1095" cy="414" r="2.2"/></g></g>
<g stroke="#666" stroke-width="0.4" transform="translate(0,77)" fill="#a8d4f0"><use href="#nodes2" y="-38"/></g>
<g fill="#a8d4f0" transform="translate(0,77)"><circle cx="1040" cy="386" r="2.2"/><circle cx="1040" cy="393" r="2.2"/><circle cx="1040" cy="400" r="2.2"/><circle cx="1040" cy="407" r="2.2"/><circle cx="1040" cy="414" r="2.2"/><circle cx="1059" cy="379" r="2.2"/><circle cx="1059" cy="386" r="2.2"/><circle cx="1059" cy="393" r="2.2"/><circle cx="1059" cy="400" r="2.2"/><circle cx="1059" cy="407" r="2.2"/><circle cx="1059" cy="414" r="2.2"/><circle cx="1059" cy="421" r="2.2"/><circle cx="1077" cy="379" r="2.2"/><circle cx="1077" cy="386" r="2.2"/><circle cx="1077" cy="393" r="2.2"/><circle cx="1077" cy="400" r="2.2"/><circle cx="1077" cy="407" r="2.2"/><circle cx="1077" cy="414" r="2.2"/><circle cx="1077" cy="421" r="2.2"/><circle cx="1095" cy="386" r="2.2"/><circle cx="1095" cy="393" r="2.2"/><circle cx="1095" cy="400" r="2.2"/><circle cx="1095" cy="407" r="2.2"/><circle cx="1095" cy="414" r="2.2"/></g>
<g fill="#3aa0e0" transform="translate(0,115)"><circle cx="1040" cy="386" r="2.2"/><circle cx="1040" cy="393" r="2.2"/><circle cx="1040" cy="400" r="2.2"/><circle cx="1040" cy="407" r="2.2"/><circle cx="1040" cy="414" r="2.2"/><circle cx="1059" cy="379" r="2.2"/><circle cx="1059" cy="386" r="2.2"/><circle cx="1059" cy="393" r="2.2"/><circle cx="1059" cy="400" r="2.2"/><circle cx="1059" cy="407" r="2.2"/><circle cx="1059" cy="414" r="2.2"/><circle cx="1059" cy="421" r="2.2"/><circle cx="1077" cy="379" r="2.2"/><circle cx="1077" cy="386" r="2.2"/><circle cx="1077" cy="393" r="2.2"/><circle cx="1077" cy="400" r="2.2"/><circle cx="1077" cy="407" r="2.2"/><circle cx="1077" cy="414" r="2.2"/><circle cx="1077" cy="421" r="2.2"/><circle cx="1095" cy="386" r="2.2"/><circle cx="1095" cy="393" r="2.2"/><circle cx="1095" cy="400" r="2.2"/><circle cx="1095" cy="407" r="2.2"/><circle cx="1095" cy="414" r="2.2"/></g>
<g fill="#1a72b8" transform="translate(0,154)"><circle cx="1040" cy="386" r="2.2"/><circle cx="1040" cy="393" r="2.2"/><circle cx="1040" cy="400" r="2.2"/><circle cx="1040" cy="407" r="2.2"/><circle cx="1040" cy="414" r="2.2"/><circle cx="1059" cy="379" r="2.2"/><circle cx="1059" cy="386" r="2.2"/><circle cx="1059" cy="393" r="2.2"/><circle cx="1059" cy="400" r="2.2"/><circle cx="1059" cy="407" r="2.2"/><circle cx="1059" cy="414" r="2.2"/><circle cx="1059" cy="421" r="2.2"/><circle cx="1077" cy="379" r="2.2"/><circle cx="1077" cy="386" r="2.2"/><circle cx="1077" cy="393" r="2.2"/><circle cx="1077" cy="400" r="2.2"/><circle cx="1077" cy="407" r="2.2"/><circle cx="1077" cy="414" r="2.2"/><circle cx="1077" cy="421" r="2.2"/><circle cx="1095" cy="386" r="2.2"/><circle cx="1095" cy="393" r="2.2"/><circle cx="1095" cy="400" r="2.2"/><circle cx="1095" cy="407" r="2.2"/><circle cx="1095" cy="414" r="2.2"/></g>
<g fill="#0d4f80" transform="translate(0,193)"><circle cx="1040" cy="386" r="2.2"/><circle cx="1040" cy="393" r="2.2"/><circle cx="1040" cy="400" r="2.2"/><circle cx="1040" cy="407" r="2.2"/><circle cx="1040" cy="414" r="2.2"/><circle cx="1059" cy="379" r="2.2"/><circle cx="1059" cy="386" r="2.2"/><circle cx="1059" cy="393" r="2.2"/><circle cx="1059" cy="400" r="2.2"/><circle cx="1059" cy="407" r="2.2"/><circle cx="1059" cy="414" r="2.2"/><circle cx="1059" cy="421" r="2.2"/><circle cx="1077" cy="379" r="2.2"/><circle cx="1077" cy="386" r="2.2"/><circle cx="1077" cy="393" r="2.2"/><circle cx="1077" cy="400" r="2.2"/><circle cx="1077" cy="407" r="2.2"/><circle cx="1077" cy="414" r="2.2"/><circle cx="1077" cy="421" r="2.2"/><circle cx="1095" cy="386" r="2.2"/><circle cx="1095" cy="393" r="2.2"/><circle cx="1095" cy="400" r="2.2"/><circle cx="1095" cy="407" r="2.2"/><circle cx="1095" cy="414" r="2.2"/></g>
<g font-size="9"><text x="1111" y="404">Alexnet</text><text x="1111" y="449">Googlenet</text><text x="1111" y="484">Resnet50</text><text x="1111" y="523">Shufflenet</text><text x="1111" y="559">Squeezenet</text><text x="1111" y="604">Mobilenetv2</text></g>
<rect x="939" y="621" width="255" height="18" fill="#7faadc"/>
<text x="1066" y="634" font-size="10.5" text-anchor="middle" textLength="242" lengthAdjust="spacingAndGlyphs">Establish 6 CNN models based on ChlF images</text>

<!-- Step 3 -->
<rect x="1181" y="373" width="403" height="246" rx="22" fill="#fff" stroke="#555" stroke-width="0.7"/>
<g font-size="9" text-anchor="middle"><text x="1246" y="390">Select the best</text><text x="1246" y="402">model among 6</text><text x="1246" y="414">CNNs</text>
<text x="1353" y="395">Feature extraction</text><text x="1353" y="407">&amp; fusion</text>
<text x="1522" y="391">Identification</text><text x="1522" y="403">&amp; classification</text></g>
<rect x="1190" y="417" width="92" height="145" fill="#fff" stroke="#444" stroke-width="0.7"/>
<rect x="1219" y="431" width="32" height="2.5" fill="#a8cfe8"/><rect x="1219" y="544" width="32" height="2.5" fill="#a8cfe8"/>
<g stroke="#888" stroke-width="0.3">
<path d="M1217,440 L1200,471 M1217,440 L1217,471 M1217,440 L1234,471 M1217,440 L1252,471 M1217,440 L1269,471 M1234,440 L1200,471 M1234,440 L1217,471 M1234,440 L1234,471 M1234,440 L1252,471 M1234,440 L1269,471 M1252,440 L1200,471 M1252,440 L1217,471 M1252,440 L1234,471 M1252,440 L1252,471 M1252,440 L1269,471"/>
<path d="M1200,471 L1200,504 M1200,471 L1217,504 M1200,471 L1234,504 M1200,471 L1252,504 M1200,471 L1269,504 M1217,471 L1200,504 M1217,471 L1217,504 M1217,471 L1234,504 M1217,471 L1252,504 M1217,471 L1269,504 M1234,471 L1200,504 M1234,471 L1217,504 M1234,471 L1234,504 M1234,471 L1252,504 M1234,471 L1269,504 M1252,471 L1200,504 M1252,471 L1217,504 M1252,471 L1234,504 M1252,471 L1252,504 M1252,471 L1269,504 M1269,471 L1200,504 M1269,471 L1217,504 M1269,471 L1234,504 M1269,471 L1252,504 M1269,471 L1269,504"/>
<path d="M1200,504 L1217,536 M1200,504 L1234,536 M1200,504 L1252,536 M1217,504 L1217,536 M1217,504 L1234,536 M1217,504 L1252,536 M1234,504 L1217,536 M1234,504 L1234,536 M1234,504 L1252,536 M1252,504 L1217,536 M1252,504 L1234,536 M1252,504 L1252,536 M1269,504 L1217,536 M1269,504 L1234,536 M1269,504 L1252,536"/>
</g>
<g fill="#8ec8ea" stroke="#333" stroke-width="0.5">
<ellipse cx="1217" cy="440" rx="4" ry="5.5"/><ellipse cx="1234" cy="440" rx="4" ry="5.5"/><ellipse cx="1252" cy="440" rx="4" ry="5.5"/>
<ellipse cx="1200" cy="471" rx="4" ry="5.5"/><ellipse cx="1217" cy="471" rx="4" ry="5.5"/><ellipse cx="1234" cy="471" rx="4" ry="5.5"/><ellipse cx="1252" cy="471" rx="4" ry="5.5"/><ellipse cx="1269" cy="471" rx="4" ry="5.5"/>
<ellipse cx="1200" cy="504" rx="4" ry="5.5"/><ellipse cx="1217" cy="504" rx="4" ry="5.5"/><ellipse cx="1234" cy="504" rx="4" ry="5.5"/><ellipse cx="1252" cy="504" rx="4" ry="5.5"/><ellipse cx="1269" cy="504" rx="4" ry="5.5"/>
<ellipse cx="1217" cy="536" rx="4" ry="5.5"/><ellipse cx="1234" cy="536" rx="4" ry="5.5"/><ellipse cx="1252" cy="536" rx="4" ry="5.5"/>
</g>
<rect x="1301" y="417" width="94" height="145" fill="#fff" stroke="#444" stroke-width="0.7"/>
<rect x="1301" y="416" width="94" height="2" fill="#aaa"/>
<g font-size="9.5"><text x="1307" y="457">Fv/Fm+Y(NO)</text><text x="1307" y="480">Fv/Fm+Inh</text><text x="1307" y="505">Y(NO)+Inh</text><text x="1307" y="529">Fv/Fm+Y(NO)+Inh</text></g>
<g fill="#fff" stroke="#333" stroke-width="0.6">
<path d="M1170,486 L1186,486 L1186,481 L1193,490 L1186,499 L1186,494 L1170,494 Z"/>
<path d="M1283,486 L1294,486 L1294,481 L1301,490 L1294,499 L1294,494 L1283,494 Z"/>
<path d="M1396,487 L1403,487 L1403,483 L1409,490 L1403,497 L1403,493 L1396,493 Z"/>
</g>
<rect x="1411" y="484" width="36" height="17" rx="8.5" fill="#2a9ae0" stroke="#1a6fa8" stroke-width="0.5"/>
<text x="1429" y="496" font-size="9" text-anchor="middle" fill="#111">SVM</text>
<text x="1461" y="490" font-size="8" text-anchor="middle">Output</text>
<line x1="1448" y1="494" x2="1476" y2="494" stroke="#1f5fa8" stroke-width="1.5" marker-end="url(#adb)"/>
<g fill="#000"><rect x="1482" y="417" width="97" height="28"/><rect x="1482" y="448" width="97" height="29"/><rect x="1482" y="478" width="97" height="28"/><rect x="1482" y="508" width="97" height="27"/><rect x="1482" y="536" width="97" height="29"/></g>
<g font-size="9" fill="#fff" text-anchor="middle"><text x="1530" y="435">0 mM</text><text x="1530" y="466">50 mM</text><text x="1530" y="496">100 mM</text><text x="1530" y="525">150 mM</text><text x="1530" y="554">200 mM</text></g>
<rect x="1275" y="621" width="264" height="18" fill="#7faadc"/>
<text x="1407" y="634" font-size="10.5" text-anchor="middle" textLength="200" lengthAdjust="spacingAndGlyphs">Fusion model comparison and analysis</text>

<g font-size="15" text-anchor="middle"><text x="872" y="659">Step 1</text><text x="1066" y="659">Step 2</text><text x="1400" y="659">Step 3</text></g>
<text x="1182" y="710" font-size="22" text-anchor="middle" fill="#000">(<tspan font-weight="bold">b</tspan>)</text>
</g>
</svg>
</body></html>
